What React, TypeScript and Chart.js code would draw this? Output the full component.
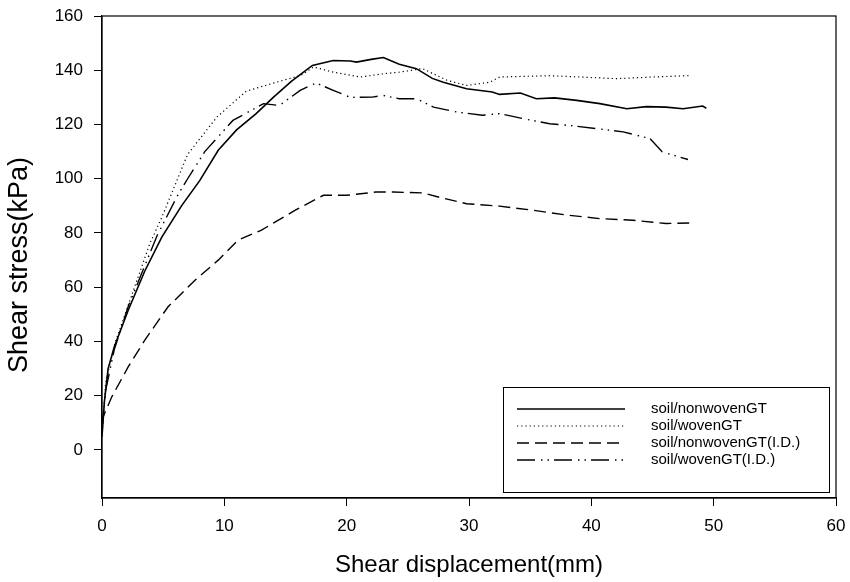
import React, { useEffect, useRef } from "react";
import { Chart, registerables } from "chart.js";

Chart.register(...registerables);

// soil/nonwovenGT (solid)
const nonwovenX = [0, 0.2, 0.5, 1, 2.15, 3.5, 4.9, 6.5, 8, 9.5, 11, 12.6, 14, 15.5, 17.2, 18.9, 20.3, 20.8, 22, 23, 24.3, 25.7, 27, 27.9, 29.8, 31.9, 32.5, 34.2, 35.5, 37, 38.8, 40.7, 42.9, 44.5, 46.1, 47.5, 49.1, 49.4];
const nonwovenY = [5, 18, 30, 38, 51.6, 66, 78.6, 90, 99.4, 110.5, 118, 124, 130, 136, 141.8, 143.6, 143.4, 143, 144, 144.7, 142.2, 140.6, 137, 135.6, 133.2, 132, 131.1, 131.6, 129.5, 129.8, 128.9, 127.7, 125.8, 126.6, 126.4, 125.8, 126.8, 126];

// soil/wovenGT (dotted)
const wovenX = [0, 0.3, 1.06, 2.1, 3.9, 4.9, 7, 9.4, 11.8, 14.8, 16.2, 17.3, 18.9, 21.1, 23, 24.3, 26.2, 28.2, 29.8, 31.7, 32.5, 36.6, 42, 45, 48];
const wovenY = [5, 25, 39.4, 52.8, 76, 85.9, 109, 122.8, 132.3, 136.3, 138, 141.2, 139.3, 137.5, 138.7, 139.3, 140.6, 136.3, 134.4, 135.6, 137.5, 138, 136.9, 137.5, 138];

// soil/nonwovenGT(I.D.) (dashed)
const nonwovenIdX = [0, 0.1, 0.8, 2.15, 3.5, 5.4, 7.6, 9.5, 11.1, 13, 14, 15.8, 18.1, 20, 22.4, 23.8, 26.2, 27.9, 29.8, 32.5, 35.2, 38, 40.7, 43.4, 46.1, 48];
const nonwovenIdY = [10, 12.3, 19.6, 30.7, 40.5, 52.8, 62.6, 70, 77.3, 81, 83.6, 88.4, 93.9, 93.9, 95.1, 95.1, 94.8, 92.8, 90.8, 89.9, 88.4, 86.6, 85.3, 84.7, 83.5, 83.7];

// soil/wovenGT(I.D.) (dash-dot-dot)
const wovenIdX = [0, 0.3, 1, 2.15, 4.5, 6.2, 7, 8.4, 10.7, 13.2, 14.5, 16.2, 17.5, 18.9, 20.3, 22.1, 23, 24.3, 25.7, 27.1, 29, 31.1, 32.5, 34.7, 36.6, 38.5, 40.4, 42.6, 44.8, 45.8, 46.7, 47.9];
const wovenIdY = [8, 22, 37, 53, 79, 94, 100, 110, 121.5, 127.7, 127, 132.6, 135.3, 132.6, 130, 130.1, 130.7, 129.5, 129.5, 126.4, 124.6, 123.4, 124, 121.9, 120.3, 119.5, 118.5, 117.3, 114.8, 109.9, 108.7, 107.1];

const seriesLabels = ["soil/nonwovenGT", "soil/wovenGT", "soil/nonwovenGT(I.D.)", "soil/wovenGT(I.D.)"];
const xTicks = [0, 10, 20, 30, 40, 50, 60];
const yTicks = [0, 20, 40, 60, 80, 100, 120, 140, 160];
const xTitle = "Shear displacement(mm)";
const yTitle = "Shear stress(kPa)";

const FONT = '"Liberation Sans", Arial, Helvetica, sans-serif';

export default function App() {
  const ref = useRef<HTMLCanvasElement>(null);

  useEffect(() => {
    document.body.style.margin = "0";
    const pts = (xs: number[], ys: number[]) => xs.map((x, i) => ({ x, y: ys[i] }));

    const frameAndLegend = {
      id: "frameAndLegend",
      afterDraw(chart: any) {
        const { ctx, chartArea } = chart;
        ctx.save();
        // frame
        ctx.strokeStyle = "#000";
        ctx.lineWidth = 1.2;
        ctx.setLineDash([]);
        ctx.strokeRect(chartArea.left, chartArea.top, chartArea.right - chartArea.left, chartArea.bottom - chartArea.top);

        // y title
        ctx.fillStyle = "#000";
        ctx.font = `27px ${FONT}`;
        ctx.textAlign = "center";
        ctx.textBaseline = "middle";
        ctx.translate(20, (chartArea.top + chartArea.bottom) / 2 + 8);
        ctx.rotate(-Math.PI / 2);
        ctx.fillText(yTitle, 0, 0);
        ctx.setTransform(1, 0, 0, 1, 0, 0);

        // legend box
        const bw = 326, bh = 105;
        const bx = chartArea.right - 7 - bw;
        const by = chartArea.bottom - 6 - bh;
        ctx.fillStyle = "#fff";
        ctx.fillRect(bx, by, bw, bh);
        ctx.lineWidth = 1;
        ctx.strokeStyle = "#000";
        ctx.strokeRect(bx + 0.5, by + 0.5, bw, bh);
        ctx.font = `15px ${FONT}`;
        ctx.textAlign = "left";
        ctx.textBaseline = "middle";
        chart.data.datasets.forEach((ds: any, i: number) => {
          const y = by + 22 + i * 17;
          ctx.beginPath();
          ctx.setLineDash(ds.borderDash || []);
          ctx.lineWidth = ds.borderWidth;
          ctx.moveTo(bx + 14, y);
          ctx.lineTo(bx + 122, y);
          ctx.stroke();
          ctx.setLineDash([]);
          ctx.fillStyle = "#000";
          ctx.fillText(ds.label, bx + 148, y);
        });
        ctx.restore();
      },
    };

    const chart = new Chart(ref.current as HTMLCanvasElement, {
      type: "line",
      data: {
        datasets: [
          { label: seriesLabels[0], data: pts(nonwovenX, nonwovenY), borderColor: "#000", borderWidth: 1.6, borderDash: [] },
          { label: seriesLabels[1], data: pts(wovenX, wovenY), borderColor: "#000", borderWidth: 1.2, borderDash: [1.2, 3] },
          { label: seriesLabels[2], data: pts(nonwovenIdX, nonwovenIdY), borderColor: "#000", borderWidth: 1.4, borderDash: [12, 6] },
          { label: seriesLabels[3], data: pts(wovenIdX, wovenIdY), borderColor: "#000", borderWidth: 1.4, borderDash: [18, 6, 1.5, 5, 1.5, 5] },
        ] as any,
      },
      options: {
        animation: false,
        responsive: false,
        parsing: true,
        elements: { point: { radius: 0 }, line: { tension: 0, fill: false } },
        layout: { padding: { top: 16, right: 14, left: 0, bottom: 0 } },
        plugins: { legend: { display: false }, tooltip: { enabled: false } },
        scales: {
          x: {
            type: "linear",
            min: 0,
            max: 60,
            afterBuildTicks: (s: any) => { s.ticks = xTicks.map((v) => ({ value: v })); },
            afterFit: (s: any) => { s.height = 84; s.paddingLeft = 0; s.paddingRight = 0; },
            ticks: { color: "#000", font: { family: FONT, size: 17 }, padding: 10, maxRotation: 0, autoSkip: false },
            grid: { drawOnChartArea: false, drawTicks: true, tickLength: 8, color: "#000", lineWidth: 1 },
            border: { display: true, color: "#000", width: 1.2 },
            title: { display: true, text: xTitle, color: "#000", font: { family: FONT, size: 24 }, padding: { top: 0, bottom: 2 } },
          },
          y: {
            type: "linear",
            min: -17.7,
            max: 160,
            afterBuildTicks: (s: any) => { s.ticks = yTicks.map((v) => ({ value: v })); },
            afterFit: (s: any) => { s.width = 102; s.paddingTop = 0; s.paddingBottom = 0; },
            ticks: { color: "#000", font: { family: FONT, size: 17 }, padding: 11, autoSkip: false },
            grid: { drawOnChartArea: false, drawTicks: true, tickLength: 8, color: "#000", lineWidth: 1 },
            border: { display: true, color: "#000", width: 1.2 },
            title: { display: false },
          },
        },
      } as any,
      plugins: [frameAndLegend],
    });
    return () => chart.destroy();
  }, []);

  return <canvas ref={ref} width={850} height={582} style={{ display: "block" }} />;
}
